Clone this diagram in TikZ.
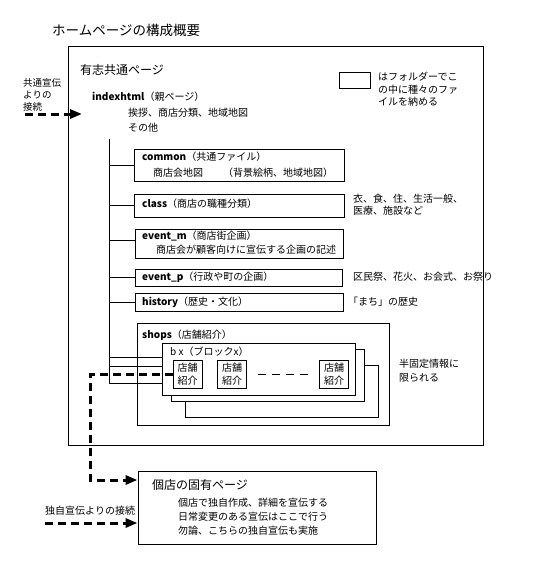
\documentclass[tikz,border=0pt]{standalone}
\usepackage{fontspec}
\setmainfont{Noto Sans CJK JP}
\usetikzlibrary{arrows.meta}
\begin{document}
\begin{tikzpicture}[x=1pt,y=-1pt,
  box/.style={draw,line width=1pt,inner sep=0pt,fill=white},
  txt/.style={anchor=west,inner sep=0pt,font=\fontsize{10pt}{12pt}\selectfont},
  thickdash/.style={line width=3pt,dash pattern=on 8pt off 5pt},
  tip/.style={-{Triangle[length=12pt,width=9pt]}},
  thin/.style={line width=1pt}]
\useasboundingbox (0,0) rectangle (533,584);
% title
\node[txt,font=\fontsize{13.5pt}{15pt}\selectfont] (title) at (52,30) {ホームページの構成概要};
% main frame
\node[box,fill=none,minimum width=415pt,minimum height=399pt] (frame) at (275.5,245.5) {};
\node[txt,font=\fontsize{12pt}{14pt}\selectfont] (yushi) at (80,70) {有志共通ページ};
% legend
\node[box,minimum width=31pt,minimum height=16pt] (legend) at (354.5,80) {};
\node[txt] (lg1) at (378,77) {はフォルダーでこ};
\node[txt] (lg2) at (378,89.5) {の中に種々のファ};
\node[txt] (lg3) at (378,102) {イルを納める};
% left incoming arrow
\node[txt,font=\fontsize{9.5pt}{11pt}\selectfont] (in1) at (23,83) {共通宣伝};
\node[txt,font=\fontsize{9.5pt}{11pt}\selectfont] (in2) at (23,95) {よりの};
\node[txt,font=\fontsize{9.5pt}{11pt}\selectfont] (in3) at (23,106.5) {接続};
\coordinate (a1s) at (25,114);
\coordinate (a1e) at (82,114);
\draw[thickdash,tip] (a1s) -- (a1e);
% index
\node[txt] (index) at (92,97) {{\bfseries indexhtml}（親ページ）};
\node[txt] (index2) at (128,113) {挨拶、商店分類、地域地図};
\node[txt] (index3) at (128,128) {その他};
% tree trunk
\coordinate (ttop) at (109,139);
\coordinate (tbot) at (109,383);
\draw[thin] (ttop) -- (tbot);
% folder boxes
\node[box,minimum width=210pt,minimum height=32pt] (common) at (239,165) {};
\node[txt] (commont) at (142,157) {{\bfseries common}（共通ファイル）};
\node[txt] (commont2) at (153,173) {商店会地図};
\node[txt] (commont3) at (223,173) {（背景絵柄、地域地図）};
\node[box,minimum width=210pt,minimum height=23pt] (class) at (239,205.5) {};
\node[txt] (classt) at (142,204) {{\bfseries class}（商店の職種分類）};
\node[txt] (classr1) at (353,199) {衣、食、住、生活一般、};
\node[txt] (classr2) at (353,211) {医療、施設など};
\node[box,minimum width=208pt,minimum height=29pt] (eventm) at (239,243.5) {};
\node[txt] (eventmt) at (142,236) {{\bfseries event\_m}（商店街企画）};
\node[txt] (eventmt2) at (156,250) {商店会が顧客向けに宣伝する企画の記述};
\node[box,minimum width=207pt,minimum height=17pt] (eventp) at (238.5,277.5) {};
\node[txt] (eventpt) at (142,277) {{\bfseries event\_p}（行政や町の企画）};
\node[txt] (eventpr) at (353,277) {区民祭、花火、お会式、お祭り};
\node[box,minimum width=208pt,minimum height=18pt] (history) at (239,302) {};
\node[txt] (historyt) at (142,302) {{\bfseries history}（歴史・文化）};
\node[txt] (historyr) at (348,302) {「まち」の歴史};
% branches
\coordinate (b1) at (109,165);
\coordinate (b2) at (109,205.5);
\coordinate (b3) at (109,240);
\coordinate (b4) at (109,277.5);
\coordinate (b5) at (109,302);
\draw[thin] (b1) -- (common.west |- b1);
\draw[thin] (b2) -- (class.west |- b2);
\draw[thin] (b3) -- (eventm.west |- b3);
\draw[thin] (b4) -- (eventp.west |- b4);
\draw[thin] (b5) -- (history.west |- b5);
% shops
\node[box,minimum width=252pt,minimum height=102pt] (shops) at (263,374) {};
\node[txt] (shopst) at (142,335) {{\bfseries shops}（店舗紹介）};
\node[box,minimum width=193pt,minimum height=52pt] (bx3) at (281.5,391) {};
\node[box,minimum width=193pt,minimum height=52pt] (bx2) at (267.5,375) {};
\node[box,minimum width=193pt,minimum height=52pt] (bx) at (258.5,369) {};
\node[txt] (bxt) at (170,352) {b x（ブロックx）};
\coordinate (c1) at (109,357);
\coordinate (c2) at (109,366);
\coordinate (c3) at (109,383);
\draw[thin] (c1) -- (bx.west |- c1);
\draw[thin] (c2) -- (bx.west |- c2);
\draw[thin] (c3) -- (bx.west |- c3);
\tikzset{shopbox/.style={box,minimum width=29pt,minimum height=28pt,align=center,font=\fontsize{10pt}{12.5pt}\selectfont}}
\node[shopbox] (s1) at (187.5,374) {店舗\\紹介};
\node[shopbox] (s2) at (232,374) {店舗\\紹介};
\node[shopbox] (s3) at (334,374) {店舗\\紹介};
\coordinate (d1) at (258,374);
\coordinate (d2) at (312,374);
\draw[thin,dash pattern=on 8pt off 6pt] (d1) -- (d2);
\node[txt] (semi1) at (399,364) {半固定情報に};
\node[txt] (semi2) at (399,378) {限られる};
% individual shop page
\node[box,minimum width=238pt,minimum height=73pt] (kobox) at (257,507.5) {};
\node[txt,font=\fontsize{12pt}{14pt}\selectfont] (kot) at (152,485) {個店の固有ページ};
\node[txt] (ko1) at (178,503) {個店で独自作成、詳細を宣伝する};
\node[txt] (ko2) at (178,517) {日常変更のある宣伝はここで行う};
\node[txt] (ko3) at (178,531) {勿論、こちらの独自宣伝も実施};
\coordinate (k1) at (90,480);
\draw[thickdash,tip] (s1.west) -- (s1.west -| k1) -- (k1) -- (kobox.west |- k1);
\node[txt] (own) at (45,511) {独自宣伝よりの接続};
\coordinate (a2s) at (45,523);
\draw[thickdash,tip] (a2s) -- (kobox.west |- a2s);
\end{tikzpicture}
\end{document}
